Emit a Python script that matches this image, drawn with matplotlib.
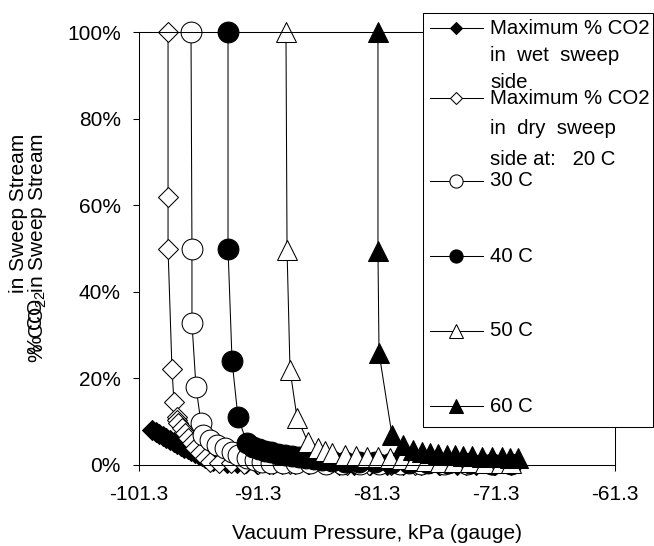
import matplotlib
matplotlib.use('Agg')  # no display here
import matplotlib.pyplot as plt
from matplotlib.lines import Line2D
from matplotlib.patches import Rectangle

plt.rcParams['font.family'] = ['Liberation Sans', 'DejaVu Sans']
plt.rcParams['mathtext.fontset'] = 'custom'
plt.rcParams['mathtext.rm'] = 'Liberation Sans'

# vacuum pressure (kPa gauge) and max % CO2 in sweep stream
wet_x = [-100.2, -99.9, -99.6, -99.3, -99.0, -98.7, -98.4, -98.1, -97.8, -97.5, -97.2,
         -96.9, -96.6, -96.3, -96.0, -95.7, -95.4, -95.1, -94.6, -93.9, -93.1, -92.3,
         -91.4, -90.4, -89.3, -88.2, -87.0, -85.8, -84.5, -83.2, -81.9, -80.5, -79.1,
         -77.6, -76.1, -74.6, -73.0, -71.4, -70.0]
wet_y = [8.0, 7.6, 7.1, 6.7, 6.2, 5.8, 5.3, 4.9, 4.4, 4.0, 3.6,
         3.2, 2.8, 2.4, 2.0, 1.6, 1.3, 1.0, 0.7, 0.5, 0.4, 0.35,
         0.3, 0.25, 0.2, 0.2, 0.15, 0.15, 0.1, 0.1, 0.1, 0.1, 0.1,
         0.1, 0.1, 0.1, 0.1, 0.1, 0.1]

x20 = [-98.86, -98.86, -98.86, -98.53, -98.36, -98.11, -98.08, -98.02, -97.69, -97.43,
       -97.18, -96.85, -96.59, -96.17, -95.75, -95.33, -94.6, -93.6, -92.5, -91.3,
       -90.0, -88.6, -87.1, -85.5, -83.8, -82.0, -80.1, -78.1, -76.0, -73.8, -71.5]
y20 = [100, 62, 50, 22.2, 14.5, 11.0, 10.4, 9.7, 8.5, 7.4,
       6.2, 5.0, 4.0, 2.8, 1.6, 0.7, 0.5, 0.4, 0.3, 0.25,
       0.2, 0.2, 0.15, 0.15, 0.1, 0.1, 0.1, 0.1, 0.1, 0.1, 0.1]

x30 = [-96.93, -96.85, -96.85, -96.51, -96.09, -95.92, -95.33, -94.75, -94.07, -93.49,
       -92.98, -92.22, -91.55, -90.96, -90.2, -89.2, -88.1, -86.9, -85.6, -84.2,
       -82.7, -81.1, -79.4, -77.6, -75.7, -73.7, -71.6]
y30 = [100, 50, 32.8, 18.0, 9.7, 6.9, 5.8, 4.6, 3.9, 3.0,
       2.3, 1.6, 1.2, 0.7, 0.5, 0.45, 0.4, 0.35, 0.3, 0.3,
       0.25, 0.25, 0.2, 0.2, 0.2, 0.2, 0.2]

x40 = [-93.82, -93.82, -93.48, -92.98, -92.22, -91.72, -91.22, -90.71, -90.21, -89.62,
       -89.03, -88.44, -87.85, -87.27, -86.59, -85.92, -85.08, -84.0, -82.8, -81.5,
       -80.1, -78.6, -77.0, -75.3, -73.5, -71.6, -70.0]
y40 = [100, 50, 24.0, 11.0, 5.1, 4.2, 3.7, 3.2, 3.0, 2.5,
       2.3, 2.1, 1.8, 1.6, 1.4, 1.2, 0.9, 0.8, 0.7, 0.6,
       0.55, 0.5, 0.45, 0.4, 0.35, 0.3, 0.3]

x50 = [-88.95, -88.86, -88.61, -88.02, -87.1, -86.26, -85.67, -85.08, -83.99, -83.06,
       -82.14, -81.22, -80.21, -79.2, -78.19, -77.18, -76.0, -74.8, -73.5, -72.2,
       -70.9, -70.0]
y50 = [100, 49.7, 22.0, 10.9, 5.3, 3.9, 3.2, 2.8, 2.3, 2.1,
       1.8, 1.8, 1.6, 1.4, 1.2, 0.9, 0.8, 0.7, 0.6, 0.55,
       0.5, 0.5]

x60 = [-81.22, -81.22, -81.13, -80.04, -79.12, -78.28, -77.52, -76.85, -76.17, -75.42,
       -74.74, -74.07, -73.32, -72.48, -71.63, -70.8, -70.12, -69.45]
y60 = [100, 49.4, 25.9, 6.9, 4.6, 3.5, 3.0, 2.8, 2.5, 2.3,
       2.3, 2.1, 2.1, 1.8, 1.8, 1.8, 1.6, 1.6]

xticks = [-101.3, -91.3, -81.3, -71.3, -61.3]
yticks = [0, 20, 40, 60, 80, 100]

legend_labels = ["Maximum % CO2\nin  wet  sweep\nside",
                 "Maximum % CO2\nin  dry  sweep\nside at:   20 C",
                 "30 C", "40 C", "50 C", "60 C"]

W, H = 654, 546
def fx(px): return px / W
def fy(py): return 1 - py / H

fig = plt.figure(figsize=(W / 100, H / 100), dpi=100)
ax = fig.add_axes([fx(139), fy(465), (615 - 139) / W, (465 - 32) / H])

# marker, face colour, size in plot, size in legend
styles = [('D', 'black', 10, 6.5), ('D', 'white', 10, 6.5), ('o', 'white', 15, 9.5),
          ('o', 'black', 15, 9.5), ('^', 'white', 14.5, 10), ('^', 'black', 14.5, 10)]
data = [(wet_x, wet_y), (x20, y20), (x30, y30), (x40, y40), (x50, y50), (x60, y60)]

for (xs, ys), (m, fc, ms, _) in zip(data, styles):
    ax.plot(xs, ys, color='black', lw=0.75, marker=m, ms=ms, mfc=fc, mec='black',
            mew=0.75, clip_on=False)

ax.set_xlim(-101.3, -61.3)
ax.set_ylim(0, 100)
ax.set_xticks(xticks, [f"{t}" for t in xticks])
ax.set_yticks(yticks, [f"{t}%" for t in yticks])
ax.tick_params(direction='out', length=4.5, width=0.75, labelsize=15, colors='black')
ax.tick_params(axis='x', pad=10)
ax.tick_params(axis='y', pad=8.5)
for s in ax.spines.values():
    s.set_linewidth(0.75)

fig.text(fx(377), fy(539), "Vacuum Pressure, kPa (gauge)", fontsize=15,
         ha='center', va='baseline')
# overlapping y titles as in the original
fig.text(fx(19), fy(293), "in Sweep Stream", fontsize=15, rotation=90,
         ha='center', va='bottom')
fig.text(fx(38), fy(363), r"% CO$_\mathregular{2}$ in Sweep Stream", fontsize=15,
         rotation=90, ha='center', va='bottom')
fig.text(fx(37), fy(355), r"% CO$_\mathregular{2}$", fontsize=15,
         rotation=90, ha='center', va='bottom')

# legend box drawn over the plot area
fig.add_artist(Rectangle((fx(423), fy(427)), (653 - 423) / W, (427 - 13) / H,
                         transform=fig.transFigure, facecolor='white',
                         edgecolor='black', lw=0.75, zorder=5))
row_y = [28, 98, 181, 256, 331, 406]
line_gap = [27.5, 30.5, 0, 0, 0, 0]
for yy, gap, lab, (m, fc, _, lms) in zip(row_y, line_gap, legend_labels, styles):
    fig.add_artist(Line2D([fx(430), fx(483)], [fy(yy), fy(yy)], transform=fig.transFigure,
                          color='black', lw=0.75, zorder=6))
    fig.add_artist(Line2D([fx(456)], [fy(yy)], transform=fig.transFigure, marker=m,
                          ms=lms, mfc=fc, mec='black', mew=0.75, zorder=7))
    for i, line in enumerate(lab.split("\n")):
        fig.text(fx(490), fy(yy + gap * i), line, fontsize=14.7, ha='left',
                 va='center', zorder=7)

fig.savefig("out.png", dpi=100)
